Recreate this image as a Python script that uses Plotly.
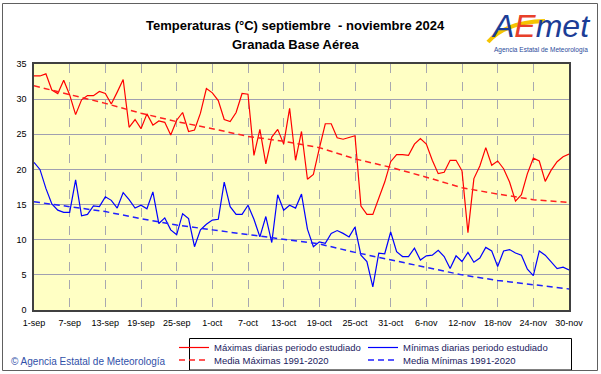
import pandas as pd
import plotly.graph_objects as go

# ---------------- data ----------------
dates = pd.date_range("2024-09-01", "2024-11-30", freq="D")

tmax = [33.3, 33.3, 33.6, 31.3, 30.8, 32.7, 30.6, 27.8, 29.9, 30.5,
        30.5, 31.1, 30.8, 29.3, 31.0, 32.8, 26.0, 27.1, 25.8, 27.9,
        26.3, 26.9, 26.7, 24.9, 27.0, 28.1, 25.4, 25.6, 28.0, 31.5,
        30.9, 29.8, 27.1, 26.8, 28.1, 30.8, 30.7, 22.0, 25.7, 20.8,
        24.6, 25.7, 23.6, 28.7, 21.3, 25.4, 18.6, 19.3, 23.0, 26.5,
        26.5, 24.5, 24.3, 24.5, 24.8, 14.8, 13.6, 13.6, 15.9, 18.2,
        21.1, 22.1, 22.1, 22.0, 23.6, 24.4, 23.6, 21.3, 19.4, 19.6,
        21.3, 21.3, 19.8, 11.0, 18.7, 20.5, 23.1, 20.6, 21.2, 20.1,
        18.2, 15.5, 16.4, 19.4, 21.6, 21.2, 18.3, 19.9, 21.1, 21.8,
        22.2]

tmin = [21.0, 20.0, 17.3, 15.1, 14.2, 13.9, 13.9, 18.5, 13.4, 13.6,
        14.8, 14.7, 16.1, 15.6, 14.5, 16.7, 15.7, 14.5, 14.9, 14.4,
        16.8, 12.3, 13.1, 11.4, 10.7, 13.7, 13.0, 9.0, 11.4, 12.2,
        12.8, 12.9, 18.2, 14.7, 13.6, 13.6, 14.9, 12.9, 10.4, 13.3,
        9.6, 16.4, 14.2, 14.9, 14.5, 16.5, 11.5, 9.0, 9.7, 9.5,
        10.9, 11.3, 10.9, 10.4, 11.8, 7.8, 6.9, 3.3, 8.1, 8.0,
        11.1, 8.3, 7.6, 7.6, 8.8, 7.1, 7.7, 7.8, 8.5, 7.6,
        5.9, 7.7, 6.9, 8.2, 6.8, 7.4, 8.9, 8.4, 6.2, 8.4,
        8.6, 8.1, 7.8, 5.8, 4.9, 8.4, 7.8, 6.9, 5.9, 6.1,
        5.7]

# climatological means read every 6 days (1-sep, 7-sep, ... 30-nov)
media_dates = dates[::6]
media_max = [31.9, 30.7, 29.4, 28.0, 26.8, 25.8, 24.7, 24.0,
             23.1, 21.5, 20.3, 18.9, 17.4, 16.5, 15.7, 15.3]
media_min = [15.4, 14.7, 14.0, 13.0, 12.1, 11.4, 10.7, 10.1,
             9.4, 8.2, 7.1, 6.0, 5.0, 4.2, 3.6, 3.0]

tick_labels = ["1-sep", "7-sep", "13-sep", "19-sep", "25-sep", "1-oct",
               "7-oct", "13-oct", "19-oct", "25-oct", "31-oct", "6-nov",
               "12-nov", "18-nov", "24-nov", "30-nov"]

# ---------------- figure ----------------
W, H = 601, 374
ML, MR, MT, MB = 34, 32, 64, 64
PW = W - ML - MR
PH = H - MT - MB


def px_x(p):
    return (p - ML) / PW


def px_y(p):
    return (H - MB - p) / PH


FONT = "Liberation Sans, Arial, sans-serif"
LEG_FONT = dict(family=FONT, size=9.5, color="#1a1a60")

fig = go.Figure()
fig.add_trace(go.Scatter(x=dates, y=tmax, mode="lines",
                         line=dict(color="#FF0000", width=1.2),
                         name="Máximas diarias periodo estudiado", legend="legend"))
fig.add_trace(go.Scatter(x=dates, y=tmin, mode="lines",
                         line=dict(color="#0000FF", width=1.2),
                         name="Mínimas diarias periodo estudiado", legend="legend"))
fig.add_trace(go.Scatter(x=media_dates, y=media_max, mode="lines",
                         line=dict(color="#FF2020", width=1.5, dash="6px,4px"),
                         name="Media Máximas 1991-2020", legend="legend2"))
fig.add_trace(go.Scatter(x=media_dates, y=media_min, mode="lines",
                         line=dict(color="#2020FF", width=1.5, dash="6px,4px"),
                         name="Media Mínimas 1991-2020", legend="legend2"))

legend_common = dict(orientation="h", xanchor="left", yanchor="top",
                     entrywidth=144, entrywidthmode="pixels",
                     bgcolor="rgba(0,0,0,0)", borderwidth=0,
                     font=LEG_FONT, itemwidth=30, tracegroupgap=0)

fig.update_layout(
    width=W, height=H,
    margin=dict(l=ML, r=MR, t=MT, b=MB, autoexpand=False),
    paper_bgcolor="white",
    plot_bgcolor="#FFFFC4",
    font=dict(family=FONT, size=9, color="black"),
    showlegend=True,
    legend=dict(x=px_x(174), y=px_y(333), **legend_common),
    legend2=dict(x=px_x(174), y=px_y(345.5), **legend_common),
    xaxis=dict(range=[dates[0], dates[-1]], tickmode="array",
               tickvals=list(dates[::6]), ticktext=tick_labels,
               tickangle=0, automargin=False, ticklabelstandoff=3,
               showgrid=True, gridcolor="#A8A8B0", griddash="dash", gridwidth=1,
               showline=True, mirror=True, linecolor="#404040", linewidth=1.5,
               ticks="", zeroline=False,
               tickfont=dict(family=FONT, size=9, color="black")),
    yaxis=dict(range=[0, 35], tickmode="linear", tick0=0, dtick=5,
               automargin=False,
               showgrid=True, gridcolor="#A0A0B0", gridwidth=1,
               showline=True, mirror=True, linecolor="#404040", linewidth=1.5,
               ticks="", zeroline=False, ticklabelstandoff=4,
               tickfont=dict(family=FONT, size=9, color="black")),
)

# legend frame
fig.add_shape(type="rect", xref="paper", yref="paper",
              x0=px_x(189.5), x1=px_x(571.5), y0=px_y(370), y1=px_y(338.5),
              line=dict(color="black", width=1), fillcolor="white", layer="above")

# titles
fig.add_annotation(text="<b>Temperaturas (°C) septiembre  - noviembre 2024</b>",
                   xref="paper", yref="paper", x=px_x(295), y=px_y(26),
                   xanchor="center", yanchor="middle", showarrow=False,
                   font=dict(family=FONT, size=13, color="black"))
fig.add_annotation(text="<b>Granada Base Aérea</b>",
                   xref="paper", yref="paper", x=px_x(295), y=px_y(44),
                   xanchor="center", yanchor="middle", showarrow=False,
                   font=dict(family=FONT, size=13, color="black"))

# AEMET logo (text based)
fig.add_shape(type="path",
              path=f"M {px_x(488)},{px_y(42)} Q {px_x(505)},{px_y(22)} {px_x(545)},{px_y(21)}",
              xref="paper", yref="paper",
              line=dict(color="#F5C400", width=4), layer="above")
fig.add_annotation(text="<i><span style='color:#1c3d96'>A</span>"
                        "<span style='color:#E8402A'>E</span>"
                        "<span style='color:#1c3d96'>met</span></i>",
                   xref="paper", yref="paper", x=px_x(540), y=px_y(26),
                   xanchor="center", yanchor="middle", showarrow=False,
                   font=dict(family=FONT, size=32, color="#1c3d96"))
fig.add_annotation(text="Agencia Estatal de Meteorología",
                   xref="paper", yref="paper", x=px_x(541), y=px_y(50),
                   xanchor="center", yanchor="middle", showarrow=False,
                   font=dict(family=FONT, size=6.5, color="#2a4a9a"))

# copyright
fig.add_annotation(text="© Agencia Estatal de Meteorología",
                   xref="paper", yref="paper", x=px_x(9), y=px_y(361),
                   xanchor="left", yanchor="middle", showarrow=False,
                   font=dict(family=FONT, size=10, color="#3050A8"))

# outer frame
fig.add_shape(type="rect", xref="paper", yref="paper",
              x0=px_x(2.5), x1=px_x(597.5), y0=px_y(370.5), y1=px_y(3.5),
              line=dict(color="#606060", width=1), layer="above")

fig.write_html("out.html", config={"displayModeBar": False},
               post_script="document.body.style.margin='0';")
